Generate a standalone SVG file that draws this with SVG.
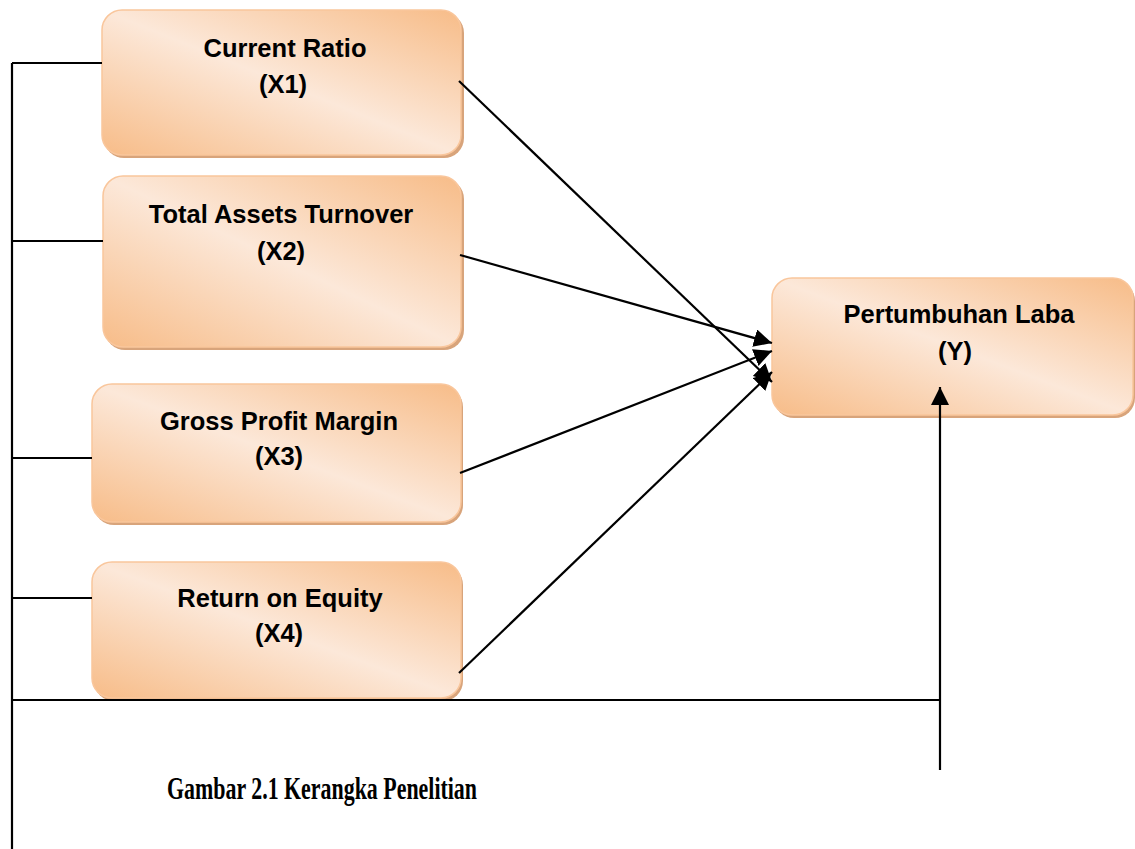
<svg xmlns="http://www.w3.org/2000/svg" width="1135" height="849" viewBox="0 0 1135 849">
<style>
.box{fill:url(#g);stroke:#F9C69C;stroke-width:1.5}
.sh{fill:#D8A47B}
.lbl{font-family:"Liberation Sans",Arial,sans-serif;font-weight:bold;font-size:25.5px;fill:#000;text-anchor:middle}
.ln{stroke:#000;stroke-width:2.2;fill:none}
.cap{font-family:"Liberation Serif","Times New Roman",serif;font-weight:bold;font-size:32px;fill:#000}
</style>
<defs>
<linearGradient id="g" x1="0" y1="1" x2="1" y2="0">
<stop offset="0" stop-color="#F7BC88"/>
<stop offset="0.5" stop-color="#FCE8D9"/>
<stop offset="1" stop-color="#F7BC88"/>
</linearGradient>
<marker id="ah" markerUnits="userSpaceOnUse" markerWidth="20" markerHeight="18" refX="18" refY="9" orient="auto">
<path d="M0,0 L18,9 L0,18 Z" fill="#000"/>
</marker>
</defs>
<rect width="1135" height="849" fill="#fff"/>
<g id="x1">
<rect class="sh" x="104" y="13" width="360" height="145" rx="20"/>
<rect class="box" x="102" y="10" width="359" height="145" rx="20"/>
<text class="lbl" x="285" y="57">Current Ratio</text>
<text class="lbl" x="283" y="93">(X1)</text>
</g>
<g id="x2">
<rect class="sh" x="105" y="179" width="359" height="171" rx="20"/>
<rect class="box" x="103" y="176" width="358" height="171" rx="20"/>
<text class="lbl" x="281" y="223">Total Assets Turnover</text>
<text class="lbl" x="281" y="260">(X2)</text>
</g>
<g id="x3">
<rect class="sh" x="94" y="387" width="369" height="138" rx="20"/>
<rect class="box" x="92" y="384" width="369" height="138" rx="20"/>
<text class="lbl" x="279" y="430">Gross Profit Margin</text>
<text class="lbl" x="279" y="465">(X3)</text>
</g>
<g id="x4">
<rect class="sh" x="94" y="565" width="369" height="136" rx="20"/>
<rect class="box" x="92" y="562" width="369" height="136" rx="20"/>
<text class="lbl" x="280" y="607">Return on Equity</text>
<text class="lbl" x="279" y="642">(X4)</text>
</g>
<g id="y">
<rect class="sh" x="774" y="281" width="361" height="137" rx="20"/>
<rect class="box" x="772" y="278" width="361" height="137" rx="20"/>
<text class="lbl" x="959" y="323">Pertumbuhan Laba</text>
<text class="lbl" x="955" y="360">(Y)</text>
</g>
<g id="connectors">
<path class="ln" d="M12,63 V849"/>
<path class="ln" d="M12,63 H102"/>
<path class="ln" d="M12,241 H103"/>
<path class="ln" d="M12,458 H92"/>
<path class="ln" d="M12,598 H92"/>
<path class="ln" d="M12,700 H940"/>
<path class="ln" d="M940,770 V387" marker-end="url(#ah)"/>
<path class="ln" d="M459,81 L772,382" marker-end="url(#ah)"/>
<path class="ln" d="M460,255 L772,343" marker-end="url(#ah)"/>
<path class="ln" d="M460,473 L772,351" marker-end="url(#ah)"/>
<path class="ln" d="M459,673 L772,372" marker-end="url(#ah)"/>
</g>
<text class="cap" x="167" y="799" textLength="310" lengthAdjust="spacingAndGlyphs">Gambar 2.1 Kerangka Penelitian</text>
</svg>
